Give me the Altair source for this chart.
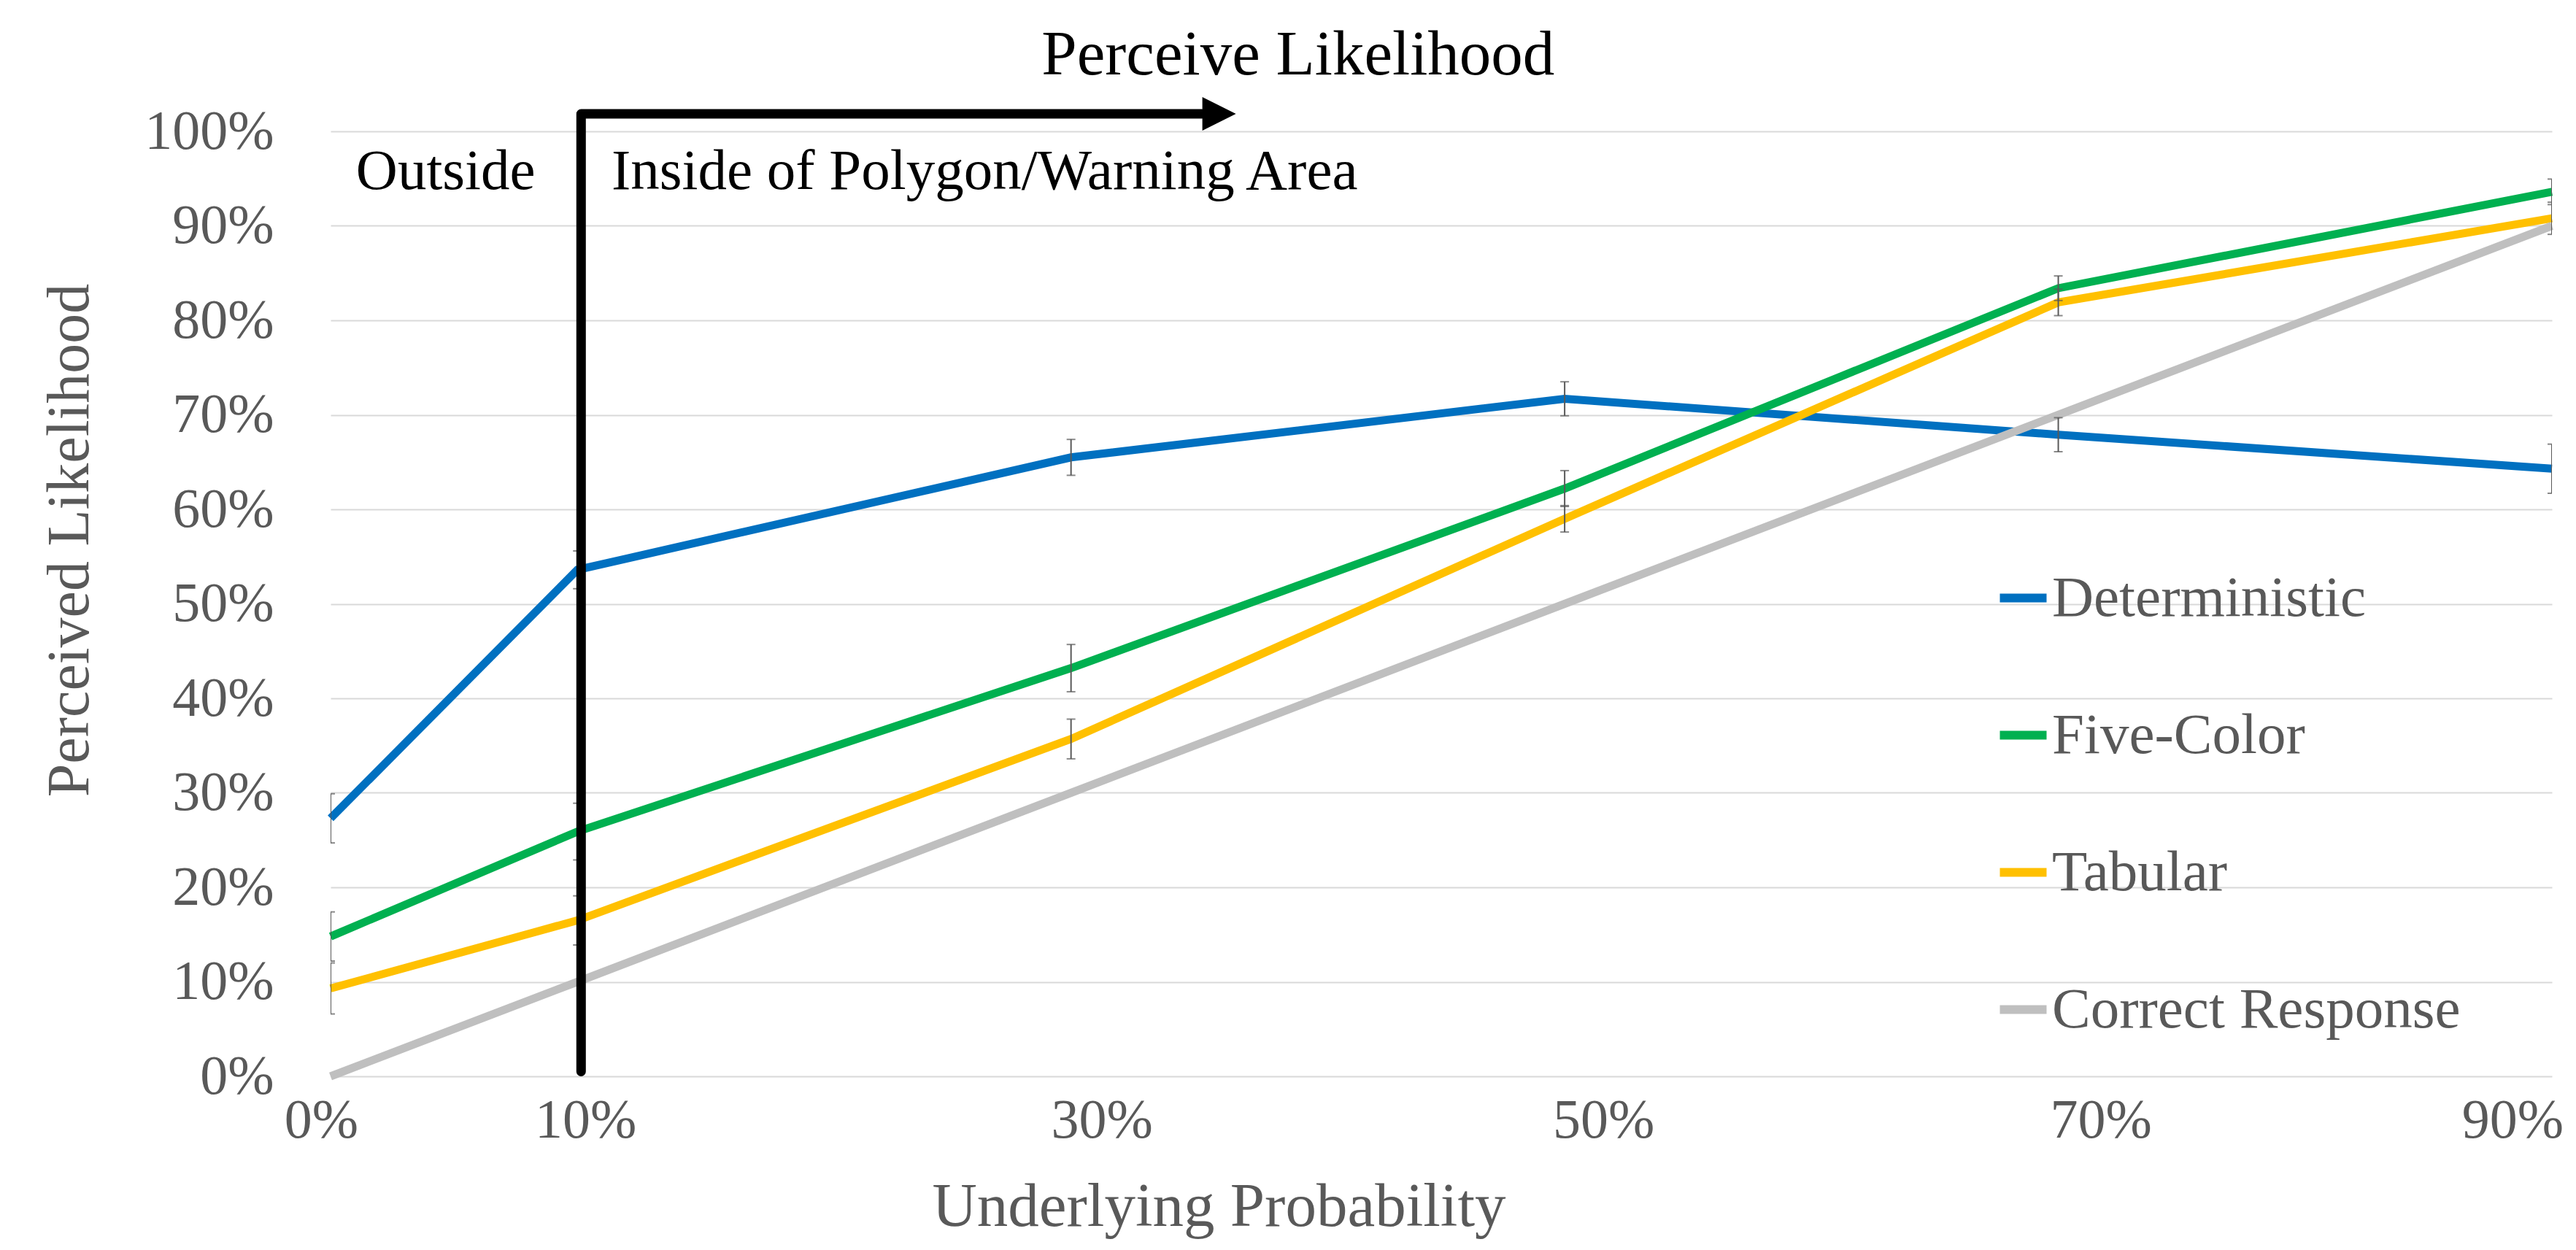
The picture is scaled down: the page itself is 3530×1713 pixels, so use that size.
import altair as alt
import pandas as pd

# ---------------- data ----------------
x_vals = [0, 10, 30, 50, 70, 90]
series = ["Deterministic", "Five-Color", "Tabular", "Correct Response"]
colors = ["#0070C0", "#00B050", "#FFC000", "#BFBFBF"]

deterministic = [27.3, 53.6, 65.5, 71.7, 67.9, 64.3]
deterministic_err = [2.6, 2.0, 1.9, 1.8, 1.8, 2.6]
five_color = [14.8, 25.9, 43.2, 62.2, 83.4, 93.6]
five_color_err = [2.6, 3.0, 2.5, 1.9, 1.3, 1.35]
tabular = [9.3, 16.5, 35.7, 59.0, 81.9, 90.8]
tabular_err = [2.7, 2.6, 2.1, 1.4, 1.4, 1.7]
correct = [0, 10, 30, 50, 70, 90]

y_ticks = [0, 10, 20, 30, 40, 50, 60, 70, 80, 90, 100]

# annotation: divider / arrow path (in data units)
arrow_x = [10.15, 10.15, 35.3]
arrow_y = [0.5, 101.85, 101.85]
arrow_head_x = [36.0]
arrow_head_y = [101.85]

notes_text = ["Outside", "Inside of Polygon/Warning Area"]
notes_x = [1.03, 11.38]
notes_y = [93.9, 93.9]

top_title = ["Perceive Likelihood"]
top_title_x = [39.2]
top_title_y = [106.05]

FONT = "Liberation Serif"
GREY_TXT = "#595959"

# ---------------- tables ----------------
rows = []
for name, vals, errs in [
    ("Deterministic", deterministic, deterministic_err),
    ("Five-Color", five_color, five_color_err),
    ("Tabular", tabular, tabular_err),
    ("Correct Response", correct, [None] * 6),
]:
    for i, xv in enumerate(x_vals):
        e = errs[i]
        rows.append({
            "series": name, "x": xv, "y": vals[i],
            "lo": None if e is None else vals[i] - e,
            "hi": None if e is None else vals[i] + e,
        })
df = pd.DataFrame(rows)
err_df = df.dropna(subset=["lo"])
caps = pd.concat([
    err_df[["series", "x", "lo"]].rename(columns={"lo": "cap"}),
    err_df[["series", "x", "hi"]].rename(columns={"hi": "cap"}),
])

arrow_df = pd.DataFrame({"x": arrow_x, "y": arrow_y, "o": list(range(len(arrow_x)))})
head_df = pd.DataFrame({"x": arrow_head_x, "y": arrow_head_y})
notes_df = pd.DataFrame({"t": notes_text, "x": notes_x, "y": notes_y})
title_df = pd.DataFrame({"t": top_title, "x": top_title_x, "y": top_title_y})

# ---------------- scales ----------------
xscale = alt.Scale(domain=[0, 90], nice=False, zero=False)
yscale = alt.Scale(domain=[0, 100], nice=False)

x_axis = alt.Axis(
    values=x_vals, labelExpr="datum.value + '%'", grid=False, domain=False, ticks=False,
    labelFont=FONT, labelFontSize=76, labelColor=GREY_TXT, labelPadding=23,
    labelFlush=False, labelOverlap=False,
    labelOffset={"condition": [
        {"test": "datum.value == 0", "value": -13},
        {"test": "datum.value == 10", "value": 11},
        {"test": "datum.value == 30", "value": 42},
        {"test": "datum.value == 50", "value": 53},
        {"test": "datum.value == 90", "value": -54},
    ], "value": 58},
    title="Underlying Probability", titleFont=FONT, titleFontSize=85, titleColor=GREY_TXT,
    titleFontWeight="normal", titleX=1217, titleY=204, titleBaseline="alphabetic",
    titleAlign="center",
)
y_axis = alt.Axis(
    values=y_ticks, labelExpr="datum.value + '%'", domain=False, ticks=False,
    gridColor="#D9D9D9", gridWidth=2.2,
    labelFont=FONT, labelFontSize=76, labelColor=GREY_TXT, labelPadding=78,
    title="Perceived Likelihood", titleFont=FONT, titleFontSize=82, titleColor=GREY_TXT,
    titleFontWeight="normal", titleX=-333, titleY=560, titleAngle=270,
    titleBaseline="alphabetic", titleAlign="center",
)

base = alt.Chart(df)

lines = base.mark_line(strokeWidth=11).encode(
    x=alt.X("x:Q", scale=xscale, axis=x_axis),
    y=alt.Y("y:Q", scale=yscale, axis=y_axis),
    color=alt.Color(
        "series:N",
        scale=alt.Scale(domain=series, range=colors),
        sort=series,
        legend=alt.Legend(
            title=None, orient="none", legendX=2280, legendY=600,
            symbolType="stroke", symbolSize=4096, symbolStrokeWidth=12,
            labelFont=FONT, labelFontSize=79, labelColor=GREY_TXT,
            rowPadding=108, labelOffset=0, padding=0, labelLimit=1000,
        ),
    ),
    order=alt.Order("o:Q"),
).transform_calculate(o="indexof(%s, datum.series)" % str(series))

err_rules = alt.Chart(err_df).mark_rule(color=GREY_TXT, strokeWidth=2, clip=True).encode(
    x=alt.X("x:Q", scale=xscale),
    y=alt.Y("lo:Q", scale=yscale),
    y2="hi:Q",
)
err_caps = alt.Chart(caps).mark_tick(
    color=GREY_TXT, thickness=2, size=12, orient="horizontal", clip=True
).encode(
    x=alt.X("x:Q", scale=xscale),
    y=alt.Y("cap:Q", scale=yscale),
)

arrow = alt.Chart(arrow_df).mark_line(
    color="black", strokeWidth=13, strokeCap="round", strokeJoin="round"
).encode(
    x=alt.X("x:Q", scale=xscale),
    y=alt.Y("y:Q", scale=yscale),
    order="o:Q",
)
head = alt.Chart(head_df).mark_point(
    shape="M -1 -1 L 1 0 L -1 1 Z", size=2116, filled=True, color="black", opacity=1
).encode(
    x=alt.X("x:Q", scale=xscale),
    y=alt.Y("y:Q", scale=yscale),
)
notes = alt.Chart(notes_df).mark_text(
    font=FONT, fontSize=79, color="black", align="left", baseline="alphabetic"
).encode(
    x=alt.X("x:Q", scale=xscale),
    y=alt.Y("y:Q", scale=yscale),
    text="t:N",
)
ttl = alt.Chart(title_df).mark_text(
    font=FONT, fontSize=87, color="black", align="center", baseline="alphabetic"
).encode(
    x=alt.X("x:Q", scale=xscale),
    y=alt.Y("y:Q", scale=yscale),
    text="t:N",
)

chart = alt.layer(lines, err_rules, err_caps, arrow, head, notes, ttl).properties(
    width=3044, height=1295,
    autosize=alt.AutoSizeParams(type="none"),
    padding={"left": 445, "top": 172, "right": 20, "bottom": 226},
    background="white",
).configure_view(stroke=None)

chart.save("out.html", embed_options={"renderer": "svg", "actions": False})
